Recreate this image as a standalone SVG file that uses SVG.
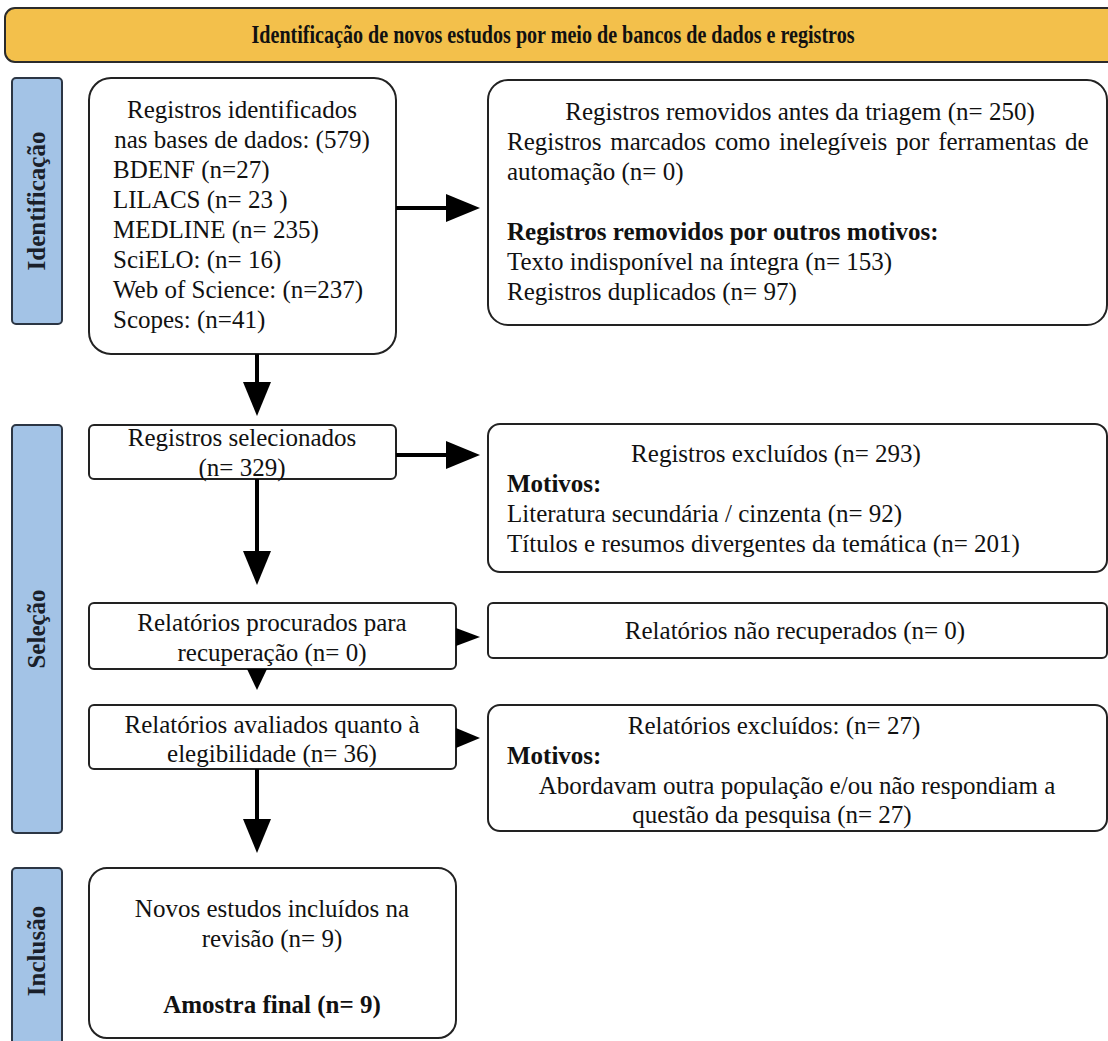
<svg xmlns="http://www.w3.org/2000/svg" width="1108" height="1041" viewBox="0 0 1108 1041">
<style>
text{font-family:"Liberation Serif","Times New Roman",serif;fill:#111;font-size:25px}
.b{font-weight:bold}
.c{text-anchor:middle}
.box{fill:#fff;stroke:#222;stroke-width:2}
.side{fill:#a3c3e6;stroke:#2c3644;stroke-width:2}
.side-t{font-weight:bold;font-size:25px;text-anchor:middle;fill:#1a1f2a}
.ln{stroke:#000;stroke-width:4;fill:none}
.hd{fill:#000}
</style>
<defs>
<marker id="ah" viewBox="0 0 34 28" refX="10" refY="14" markerWidth="34" markerHeight="28" markerUnits="userSpaceOnUse" orient="auto">
<path d="M0,0 L34,14 L0,28 z" fill="#000"/>
</marker>
</defs>
<rect x="0" y="0" width="1108" height="1041" fill="#fff"/>

<g id="banner">
<rect x="5" y="8" width="1115" height="54" rx="10" fill="#f3c04b" stroke="#2b2b2b" stroke-width="2"/>
<text class="b c" x="553" y="43" font-size="28" textLength="603" lengthAdjust="spacingAndGlyphs">Identificação de novos estudos por meio de bancos de dados e registros</text>
</g>

<g id="phase-identificacao">
<rect class="side" x="12" y="78" width="50" height="246" rx="4"/>
<text class="side-t" transform="translate(45,201) rotate(-90)">Identificação</text>
</g>
<g id="phase-selecao">
<rect class="side" x="12" y="425" width="50" height="408" rx="4"/>
<text class="side-t" transform="translate(45,629) rotate(-90)">Seleção</text>
</g>
<g id="phase-inclusao">
<rect class="side" x="12" y="868" width="50" height="190" rx="4"/>
<text class="side-t" transform="translate(45,951) rotate(-90)">Inclusão</text>
</g>

<g id="n-identificados">
<rect class="box" x="89" y="78" width="307" height="276" rx="22"/>
<text class="c" x="242" y="118">Registros identificados</text>
<text class="c" x="242" y="148">nas bases de dados: (579)</text>
<text x="113" y="178">BDENF (n=27)</text>
<text x="113" y="208">LILACS (n= 23 )</text>
<text x="113" y="238">MEDLINE (n= 235)</text>
<text x="113" y="268">SciELO: (n= 16)</text>
<text x="113" y="298">Web of Science: (n=237)</text>
<text x="113" y="328">Scopes: (n=41)</text>
</g>

<g id="n-removidos">
<rect class="box" x="488" y="80" width="619" height="245" rx="20"/>
<text class="c" x="800" y="120">Registros removidos antes da triagem (n= 250)</text>
<text x="507" y="150" word-spacing="2.5">Registros marcados como inelegíveis por ferramentas de</text>
<text x="507" y="180">automação (n= 0)</text>
<text class="b" x="507" y="240">Registros removidos por outros motivos:</text>
<text x="507" y="270">Texto indisponível na íntegra (n= 153)</text>
<text x="507" y="300">Registros duplicados (n= 97)</text>
</g>

<g id="n-selecionados">
<rect class="box" x="89" y="425" width="307" height="54" rx="5"/>
<text class="c" x="242" y="446">Registros selecionados</text>
<text class="c" x="242" y="476">(n= 329)</text>
</g>

<g id="n-excluidos">
<rect class="box" x="488" y="424" width="619" height="148" rx="12"/>
<text class="c" x="776" y="462">Registros excluídos (n= 293)</text>
<text class="b" x="507" y="492">Motivos:</text>
<text x="507" y="522">Literatura secundária / cinzenta (n= 92)</text>
<text x="507" y="552">Títulos e resumos divergentes da temática (n= 201)</text>
</g>

<g id="n-procurados">
<rect class="box" x="89" y="603" width="367" height="66" rx="5"/>
<text class="c" x="272" y="631">Relatórios procurados para</text>
<text class="c" x="272" y="661">recuperação (n= 0)</text>
</g>

<g id="n-nao-recuperados">
<rect class="box" x="488" y="603" width="619" height="55" rx="5"/>
<text class="c" x="795" y="639">Relatórios não recuperados (n= 0)</text>
</g>

<g id="n-avaliados">
<rect class="box" x="89" y="705" width="367" height="64" rx="5"/>
<text class="c" x="272" y="733">Relatórios avaliados quanto à</text>
<text class="c" x="272" y="762">elegibilidade (n= 36)</text>
</g>

<g id="n-rel-excluidos">
<rect class="box" x="488" y="705" width="619" height="126" rx="12"/>
<text class="c" x="774" y="734">Relatórios excluídos: (n= 27)</text>
<text class="b" x="507" y="764">Motivos:</text>
<text class="c" x="797" y="794">Abordavam outra população e/ou não respondiam a</text>
<text class="c" x="772" y="823">questão da pesquisa (n= 27)</text>
</g>

<g id="n-incluidos">
<rect class="box" x="89" y="868" width="367" height="170" rx="18"/>
<text class="c" x="272" y="917">Novos estudos incluídos na</text>
<text class="c" x="272" y="947">revisão (n= 9)</text>
<text class="b c" x="272" y="1013">Amostra final (n= 9)</text>
</g>

<g id="connectors">
<line class="ln" x1="396" y1="208" x2="456" y2="208" marker-end="url(#ah)"/>
<line class="ln" x1="257" y1="354" x2="257" y2="392" marker-end="url(#ah)"/>
<line class="ln" x1="396" y1="455" x2="456" y2="455" marker-end="url(#ah)"/>
<line class="ln" x1="257" y1="479" x2="257" y2="561" marker-end="url(#ah)"/>
<polygon class="hd" points="456,628 480,637 456,646"/>
<polygon class="hd" points="247,669 267,669 257,690"/>
<polygon class="hd" points="456,728 480,738 456,748"/>
<line class="ln" x1="257" y1="769" x2="257" y2="829" marker-end="url(#ah)"/>
</g>
</svg>
